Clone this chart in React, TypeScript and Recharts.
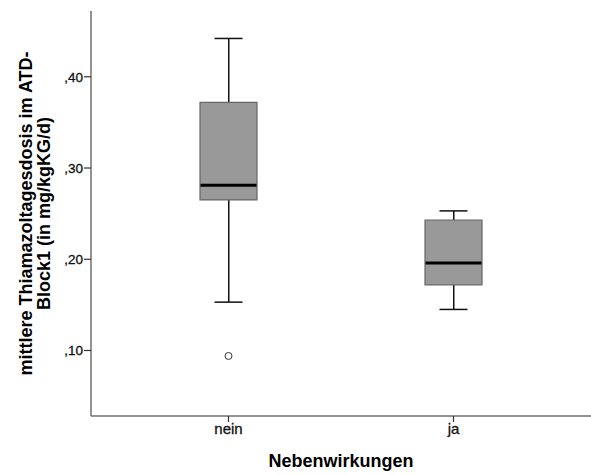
import React from 'react';
import { ComposedChart, Bar, Scatter, XAxis, YAxis } from 'recharts';

// Nebenwirkungen groups
const categories = ['nein', 'ja'];
const whiskerLow = [0.153, 0.145];
const quartile1 = [0.265, 0.172];
const medians = [0.281, 0.196];
const quartile3 = [0.372, 0.243];
const whiskerHigh = [0.442, 0.253];
const outliers = [0.094, null];

const yTicks = [0.1, 0.2, 0.3, 0.4];

const data = categories.map((name, i) => ({
    name,
    min: whiskerLow[i],
    q1: quartile1[i],
    median: medians[i],
    q3: quartile3[i],
    max: whiskerHigh[i],
    outlier: outliers[i],
}));

const axisColor = '#6f6f6f';
const xPadding = { left: 25, right: 25 };
const font = 'Arial, "Liberation Sans", sans-serif';

const fmtY = (v: number) => ',' + Math.round(v * 100).toString();

const Cap = (props: any) => {
    const { cx, cy } = props;
    if (cx == null || cy == null || isNaN(cy)) return <g />;
    return <line x1={cx - 14} x2={cx + 14} y1={cy} y2={cy} stroke="#111" strokeWidth={1.5} />;
};

const MedianLine = (props: any) => {
    const { cx, cy } = props;
    if (cx == null || cy == null || isNaN(cy)) return <g />;
    return <line x1={cx - 28} x2={cx + 28} y1={cy} y2={cy} stroke="#000" strokeWidth={3} />;
};

const OutlierDot = (props: any) => {
    const { cx, cy, payload } = props;
    if (payload == null || payload.outlier == null || isNaN(cy)) return <g />;
    return <circle cx={cx} cy={cy} r={3.5} fill="#fff" stroke="#333" strokeWidth={1} />;
};

const YTitle = (props: any) => {
    const vb = props.viewBox || { x: 0, y: 11, width: 91, height: 405 };
    const cy = vb.y + vb.height / 2;
    const style = { fontFamily: font, fontSize: 18, fontWeight: 'bold' as const };
    return (
        <g>
            <text x={31.5} y={cy} transform={`rotate(-90, 31.5, ${cy})`} textAnchor="middle" fill="#000" style={style}>
                mittlere Thiamazoltagesdosis im ATD-
            </text>
            <text x={50} y={cy} transform={`rotate(-90, 50, ${cy})`} textAnchor="middle" fill="#000" style={style}>
                Block1 (in mg/kgKG/d)
            </text>
        </g>
    );
};

const XTitle = (props: any) => {
    const vb = props.viewBox || { x: 91, y: 416, width: 500, height: 59 };
    return (
        <text
            x={vb.x + vb.width / 2}
            y={467}
            textAnchor="middle"
            fill="#000"
            style={{ fontFamily: font, fontSize: 18, fontWeight: 'bold' }}
        >
            Nebenwirkungen
        </text>
    );
};

const App: React.FC = () => {
    const xTickStyle = { fontFamily: font, fontSize: 15, fill: '#111', stroke: '#111', strokeWidth: 0.3 };
    const yTickStyle = { fontFamily: font, fontSize: 13.5, fill: '#111', stroke: '#111', strokeWidth: 0.3 };
    return (
        <div style={{ position: 'absolute', left: 0, top: 0 }}>
            <ComposedChart width={591} height={475} data={data} margin={{ top: 11, right: 0, bottom: 0, left: 0 }}>
                <XAxis
                    dataKey="name"
                    padding={xPadding}
                    height={59}
                    tick={xTickStyle}
                    tickSize={6}
                    tickMargin={1}
                    stroke={axisColor}
                    strokeWidth={1.5}
                    tickLine={{ stroke: '#333', strokeWidth: 1.2 }}
                    label={{ content: XTitle }}
                />
                <XAxis dataKey="name" xAxisId="whisker" padding={xPadding} hide />
                <XAxis
                    dataKey="name"
                    xAxisId="top"
                    orientation="top"
                    padding={xPadding}
                    height={0}
                    tick={false}
                    tickLine={false}
                    stroke={axisColor}
                    strokeWidth={1.5}
                />
                <YAxis
                    width={91}
                    domain={[0.0282, 0.4721]}
                    allowDataOverflow
                    ticks={yTicks}
                    tickFormatter={fmtY}
                    tick={yTickStyle}
                    tickSize={7}
                    tickMargin={1}
                    stroke={axisColor}
                    strokeWidth={1.5}
                    tickLine={{ stroke: '#333', strokeWidth: 1.2 }}
                    label={{ content: YTitle }}
                />
                <Bar
                    xAxisId="whisker"
                    dataKey={(d: any) => [d.min, d.max]}
                    barSize={1.5}
                    fill="#111"
                    isAnimationActive={false}
                />
                <Bar
                    dataKey={(d: any) => [d.q1, d.q3]}
                    barSize={57}
                    fill="#999999"
                    stroke="#666"
                    strokeWidth={1.2}
                    isAnimationActive={false}
                />
                <Scatter dataKey="max" shape={Cap} isAnimationActive={false} />
                <Scatter dataKey="min" shape={Cap} isAnimationActive={false} />
                <Scatter dataKey="median" shape={MedianLine} isAnimationActive={false} />
                <Scatter dataKey="outlier" shape={OutlierDot} isAnimationActive={false} />
            </ComposedChart>
        </div>
    );
};

export default App;
